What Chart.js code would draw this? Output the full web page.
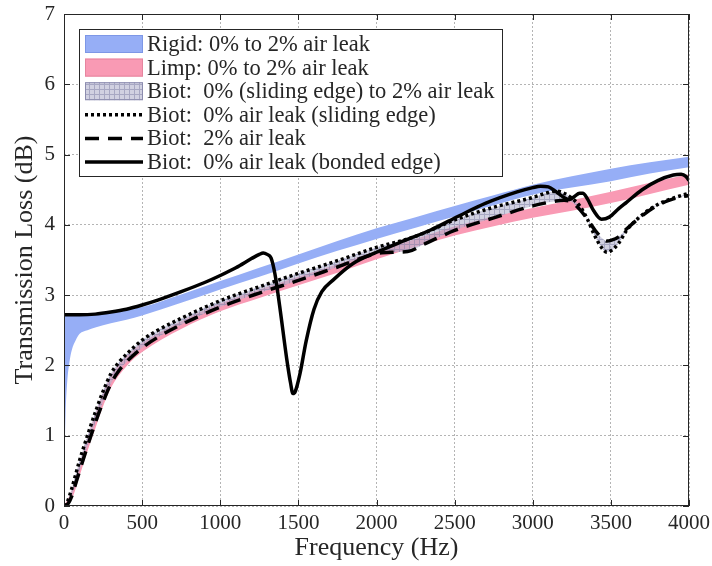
<!DOCTYPE html>
<html>
<head>
<meta charset="utf-8">
<script src="https://cdn.jsdelivr.net/npm/chart.js@4.4.1/dist/chart.umd.min.js"></script>
<style>
  html, body { margin: 0; padding: 0; background: #fff; }
  canvas { display: block; }
</style>
</head>
<body>
<canvas id="tlChart" width="712" height="566"></canvas>
<script>
// axis ticks
const xTicks = [0, 500, 1000, 1500, 2000, 2500, 3000, 3500, 4000];
const yTicks = [0, 1, 2, 3, 4, 5, 6, 7];

// rigid frame model, 0% .. 2% air leak (band)
const rigidFreq = [0, 5, 10, 20, 35, 50, 75, 100, 150, 200, 300, 400, 500, 750, 1000, 1250, 1500, 1750, 2000, 2250, 2500, 2750, 3000, 3250, 3500, 3750, 4000];
const rigidHigh = [2.72, 2.72, 2.72, 2.72, 2.72, 2.72, 2.72, 2.72, 2.72, 2.73, 2.76, 2.79, 2.83, 3.01, 3.2, 3.39, 3.58, 3.77, 3.95, 4.11, 4.27, 4.42, 4.57, 4.69, 4.8, 4.89, 4.97];
const rigidLow  = [0, 0.8, 1.3, 1.75, 2.05, 2.22, 2.36, 2.45, 2.5, 2.54, 2.6, 2.65, 2.71, 2.89, 3.08, 3.26, 3.45, 3.63, 3.8, 3.96, 4.12, 4.28, 4.43, 4.53, 4.62, 4.73, 4.82];

// limp frame model, 0% .. 2% air leak (band)
const limpFreq = [0, 50, 100, 150, 200, 250, 300, 400, 500, 750, 1000, 1250, 1500, 1750, 2000, 2250, 2500, 2750, 3000, 3250, 3500, 3750, 4000];
const limpHigh = [0, 0.22, 0.6, 0.96, 1.3, 1.6, 1.85, 2.13, 2.32, 2.63, 2.88, 3.08, 3.26, 3.44, 3.63, 3.8, 3.98, 4.12, 4.24, 4.35, 4.47, 4.6, 4.72];
const limpLow  = [0, 0.1, 0.43, 0.78, 1.1, 1.42, 1.68, 1.99, 2.19, 2.52, 2.77, 2.96, 3.14, 3.32, 3.51, 3.69, 3.85, 3.98, 4.1, 4.2, 4.31, 4.44, 4.57];

// Biot model, sliding edge
const biotFreq = [0, 25, 50, 75, 100, 150, 200, 250, 300, 350, 400, 500, 600, 750, 1000, 1250, 1500, 1750, 2000, 2100, 2200, 2300, 2500, 2750, 3000, 3100, 3150, 3200, 3250, 3300, 3350, 3400, 3450, 3475, 3500, 3550, 3600, 3700, 3800, 3900, 4000];
const biotSliding0 = [0, 0.08, 0.25, 0.45, 0.65, 1.0, 1.33, 1.63, 1.88, 2.04, 2.16, 2.36, 2.5, 2.67, 2.92, 3.12, 3.31, 3.49, 3.68, 3.74, 3.8, 3.88, 4.07, 4.25, 4.39, 4.46, 4.48, 4.45, 4.38, 4.27, 4.08, 3.83, 3.65, 3.61, 3.63, 3.74, 3.92, 4.14, 4.29, 4.38, 4.45];
const biotLeak2    = [0, 0.03, 0.14, 0.32, 0.5, 0.85, 1.18, 1.48, 1.74, 1.92, 2.05, 2.25, 2.4, 2.58, 2.83, 3.03, 3.21, 3.4, 3.59, 3.61, 3.62, 3.72, 3.92, 4.1, 4.27, 4.32, 4.34, 4.35, 4.32, 4.22, 4.08, 3.92, 3.8, 3.77, 3.78, 3.83, 3.94, 4.13, 4.28, 4.37, 4.42];

// Biot model, bonded edge, 0% air leak
const bondedFreq = [0, 100, 200, 300, 400, 500, 600, 750, 900, 1000, 1100, 1200, 1250, 1275, 1300, 1325, 1350, 1380, 1425, 1450, 1465, 1480, 1510, 1550, 1600, 1650, 1720, 1850, 2000, 2150, 2350, 2530, 2700, 2900, 3000, 3050, 3100, 3150, 3200, 3235, 3265, 3300, 3320, 3350, 3390, 3440, 3490, 3550, 3600, 3700, 3800, 3900, 3950, 3980, 4000];
const biotBonded = [2.72, 2.72, 2.73, 2.76, 2.8, 2.86, 2.93, 3.05, 3.18, 3.28, 3.39, 3.52, 3.58, 3.6, 3.58, 3.53, 3.3, 2.85, 2.1, 1.75, 1.6, 1.63, 1.88, 2.35, 2.8, 3.05, 3.21, 3.45, 3.61, 3.75, 3.93, 4.13, 4.31, 4.47, 4.53, 4.55, 4.54, 4.47, 4.39, 4.36, 4.4, 4.45, 4.45, 4.37, 4.2, 4.08, 4.11, 4.23, 4.32, 4.5, 4.63, 4.71, 4.72, 4.69, 4.63];

const legendLabels = [
  'Rigid: 0% to 2% air leak',
  'Limp: 0% to 2% air leak',
  'Biot:  0% (sliding edge) to 2% air leak',
  'Biot:  0% air leak (sliding edge)',
  'Biot:  2% air leak',
  'Biot:  0% air leak (bonded edge)'
];

const BLUE = '#96aef6';
const PINK = '#f99ab4';
const SERIF = "'Liberation Serif', 'DejaVu Serif', serif";
const TXT = '#262626';

const pts = (xs, ys) => xs.map((x, i) => ({ x: x, y: ys[i] }));

const canvas = document.getElementById('tlChart');
const ctx = canvas.getContext('2d');

// small grid hatch used for the Biot range
function makeHatch() {
  const c = document.createElement('canvas');
  c.width = 5; c.height = 5;
  const g = c.getContext('2d');
  g.fillStyle = 'rgba(178,178,205,0.6)';
  g.fillRect(0, 0, 5, 5);
  g.fillStyle = 'rgba(120,120,160,0.45)';
  g.fillRect(0, 4, 5, 1);
  g.fillRect(4, 0, 1, 4);
  return ctx.createPattern(c, 'repeat');
}
const hatch = makeHatch();

const band = (xs, ys, extra) => Object.assign({
  data: pts(xs, ys), borderWidth: 0, borderColor: 'transparent',
  pointRadius: 0, cubicInterpolationMode: 'monotone', fill: false
}, extra);

// frame with inward ticks on all four sides, and the boxed legend
const framePlugin = {
  id: 'frameAndLegend',
  afterDraw(chart) {
    const c = chart.ctx;
    const a = chart.chartArea;
    const xs = chart.scales.x, ys = chart.scales.y;
    c.save();
    c.strokeStyle = TXT;
    c.lineWidth = 1;
    c.strokeRect(a.left + 0.5, a.top + 0.5, a.right - a.left - 1, a.bottom - a.top - 1);
    c.beginPath();
    xTicks.forEach(v => {
      const px = Math.round(xs.getPixelForValue(v)) + 0.5;
      c.moveTo(px, a.bottom); c.lineTo(px, a.bottom - 6);
      c.moveTo(px, a.top); c.lineTo(px, a.top + 6);
    });
    yTicks.forEach(v => {
      const py = Math.round(ys.getPixelForValue(v)) + 0.5;
      c.moveTo(a.left, py); c.lineTo(a.left + 6, py);
      c.moveTo(a.right, py); c.lineTo(a.right - 6, py);
    });
    c.stroke();

    // legend
    const lx = 79, ly = 29, lw = 423, lh = 147;
    c.fillStyle = '#fff';
    c.fillRect(lx, ly, lw, lh);
    c.strokeRect(lx + 0.5, ly + 0.5, lw, lh);
    const sx0 = 85, sx1 = 143;
    c.font = '22.5px ' + SERIF;
    c.textBaseline = 'middle';
    legendLabels.forEach((label, i) => {
      const cy = ly + 15 + i * 23.6;
      c.save();
      if (i < 3) {
        c.fillStyle = [BLUE, PINK, hatch][i];
        c.fillRect(sx0, cy - 9, sx1 - sx0, 18);
        c.strokeStyle = ['#7d97e6', '#e6859f', '#8c8cae'][i];
        c.strokeRect(sx0 + 0.5, cy - 8.5, sx1 - sx0 - 1, 17);
      } else {
        c.strokeStyle = '#000';
        c.lineWidth = 3.5;
        c.setLineDash([[3, 3], [14, 9], []][i - 3]);
        c.beginPath();
        c.moveTo(sx0, cy); c.lineTo(sx1, cy);
        c.stroke();
      }
      c.restore();
      c.fillStyle = TXT;
      c.fillText(label, 147, cy + 1);
    });
    c.restore();
  }
};

new Chart(ctx, {
  type: 'line',
  data: {
    datasets: [
      band(rigidFreq, rigidLow, { order: 10 }),
      band(rigidFreq, rigidHigh, { order: 9, fill: '-1', backgroundColor: BLUE }),
      band(limpFreq, limpLow, { order: 8 }),
      band(limpFreq, limpHigh, { order: 7, fill: '-1', backgroundColor: PINK }),
      {
        data: pts(biotFreq, biotLeak2),
        borderColor: '#000', borderWidth: 3.5, borderDash: [14, 9],
        pointRadius: 0, cubicInterpolationMode: 'monotone', fill: false, order: 2
      },
      {
        data: pts(biotFreq, biotSliding0),
        borderColor: '#000', borderWidth: 3.5, borderDash: [3, 3],
        pointRadius: 0, cubicInterpolationMode: 'monotone',
        fill: { target: 4 }, backgroundColor: hatch, order: 3
      },
      {
        data: pts(bondedFreq, biotBonded),
        borderColor: '#000', borderWidth: 3.5,
        pointRadius: 0, cubicInterpolationMode: 'monotone', fill: false, order: 1
      }
    ]
  },
  options: {
    responsive: false,
    devicePixelRatio: 1,
    animation: false,
    events: [],
    layout: { padding: { top: 14, right: 23, left: 0, bottom: 0 } },
    plugins: {
      legend: { display: false },
      tooltip: { enabled: false }
    },
    scales: {
      x: {
        type: 'linear',
        min: 0, max: 4000,
        afterBuildTicks: s => { s.ticks = xTicks.map(v => ({ value: v })); },
        afterFit: s => { s.height = 60; s.paddingLeft = 0; s.paddingRight = 0; },
        grid: { color: '#b4b4b4', lineWidth: 1, drawTicks: false },
        border: { display: false, dash: [2, 2] },
        ticks: {
          padding: 5, color: TXT, maxRotation: 0,
          font: { family: SERIF, size: 21 },
          callback: v => String(v)
        },
        title: {
          display: true, text: 'Frequency (Hz)', color: TXT,
          font: { family: SERIF, size: 26 },
          padding: { top: 0, bottom: 2 }
        }
      },
      y: {
        min: 0, max: 7,
        afterBuildTicks: s => { s.ticks = yTicks.map(v => ({ value: v })); },
        afterFit: s => { s.width = 64; s.paddingTop = 0; s.paddingBottom = 0; },
        grid: { color: '#b4b4b4', lineWidth: 1, drawTicks: false },
        border: { display: false, dash: [2, 2] },
        ticks: {
          padding: 9, color: TXT,
          font: { family: SERIF, size: 21 },
          callback: v => String(v)
        },
        title: {
          display: true, text: 'Transmission Loss (dB)', color: TXT,
          font: { family: SERIF, size: 26 },
          padding: { top: 10, bottom: 0 }
        }
      }
    }
  },
  plugins: [framePlugin]
});
</script>
</body>
</html>
